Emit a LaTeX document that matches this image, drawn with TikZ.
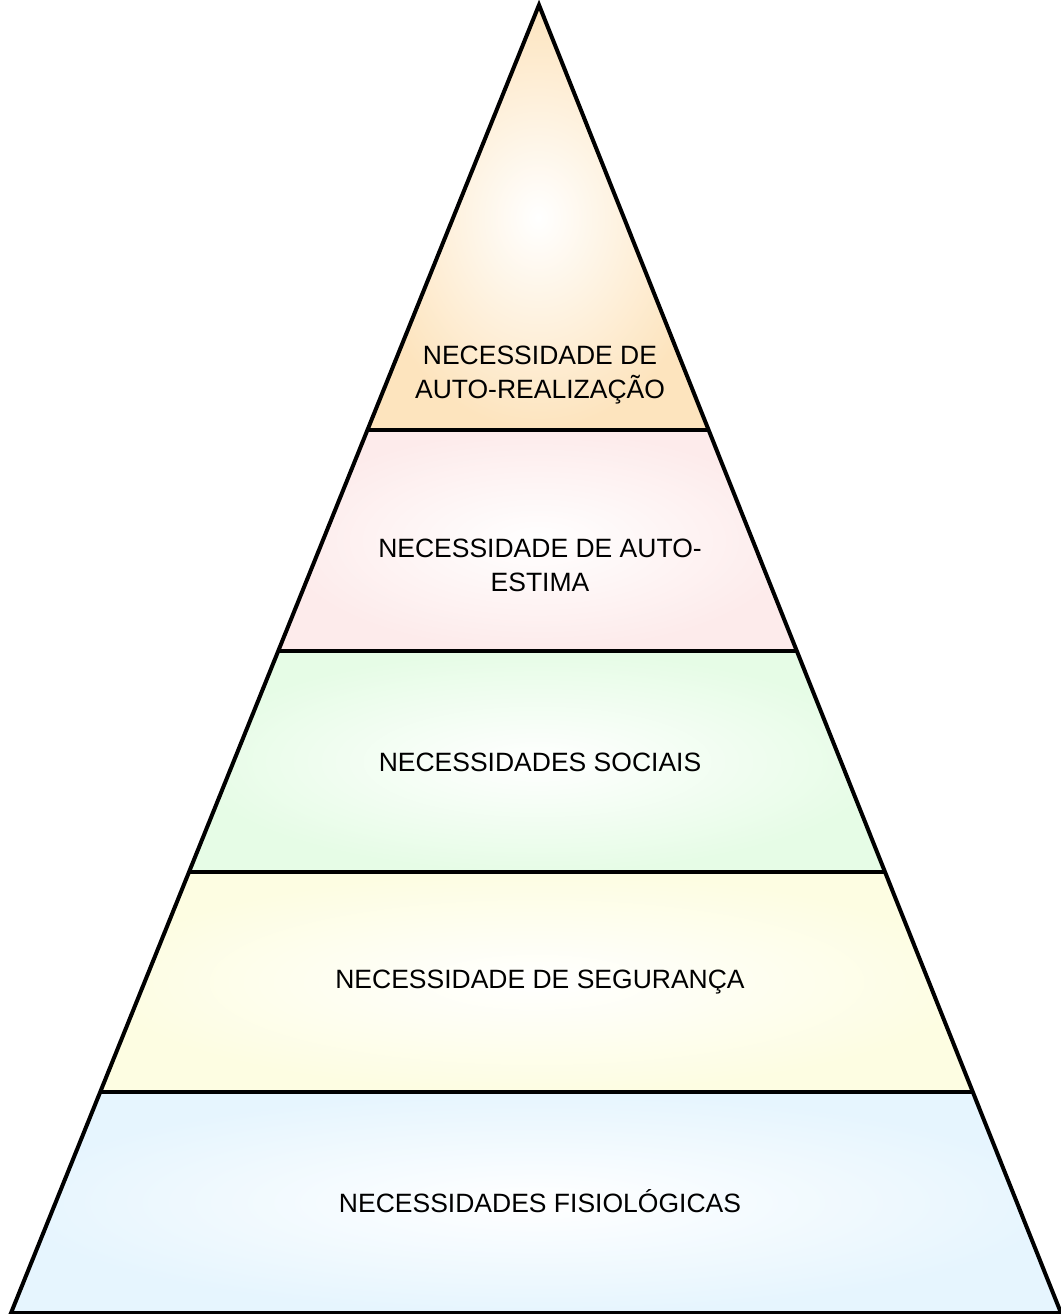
\documentclass[tikz,border=0pt]{standalone}
\usepackage{fontspec}
\setmainfont{Liberation Sans}
\usetikzlibrary{calc}
\definecolor{peach}{RGB}{253,228,190}
\definecolor{rose}{RGB}{253,235,235}
\definecolor{mint}{RGB}{230,252,230}
\definecolor{cream}{RGB}{253,253,226}
\definecolor{sky}{RGB}{230,245,254}
\tikzset{
  edge/.style={line width=4pt, line join=miter, line cap=butt},
  label/.style={align=center, font=\fontsize{26.5}{34}\selectfont, text=black, inner sep=0pt}
}
\begin{document}
\begin{tikzpicture}[x=1pt,y=-1pt]
\useasboundingbox (0,0) rectangle (1060,1314);
\coordinate (apex) at (539,5);
\coordinate (bl) at (11,1313);
\coordinate (br) at (1061,1313);
% level boundaries along the two sides
\foreach \n/\t in {1/0.3249,2/0.4939,3/0.6628,4/0.8310} {
  \coordinate (l\n) at ($(apex)!\t!(bl)$);
  \coordinate (r\n) at ($(apex)!\t!(br)$);
}
% shaded bands
\shade[inner color=white, outer color=peach] (apex) -- (r1) -- (l1) -- cycle;
\shade[inner color=white, outer color=rose] (l1) -- (r1) -- (r2) -- (l2) -- cycle;
\shade[inner color=white, outer color=mint] (l2) -- (r2) -- (r3) -- (l3) -- cycle;
\shade[inner color=white, outer color=cream] (l3) -- (r3) -- (r4) -- (l4) -- cycle;
\shade[inner color=white, outer color=sky] (l4) -- (r4) -- (br) -- (bl) -- cycle;
% outlines
\draw[edge] (bl) -- (apex) -- (br) -- cycle;
\draw[edge] (l1) -- (r1);
\draw[edge] (l2) -- (r2);
\draw[edge] (l3) -- (r3);
\draw[edge] (l4) -- (r4);
% labels
\node[label] (t1) at (540,375) {NECESSIDADE DE\\AUTO-REALIZAÇÃO};
\node[label] (t2) at (540,565) {NECESSIDADE DE AUTO-\\ESTIMA};
\node[label] (t3) at (540,762) {NECESSIDADES SOCIAIS};
\node[label] (t4) at (540,982) {NECESSIDADE DE SEGURANÇA};
\node[label] (t5) at (540,1201) {NECESSIDADES FISIOLÓGICAS};
\end{tikzpicture}
\end{document}
